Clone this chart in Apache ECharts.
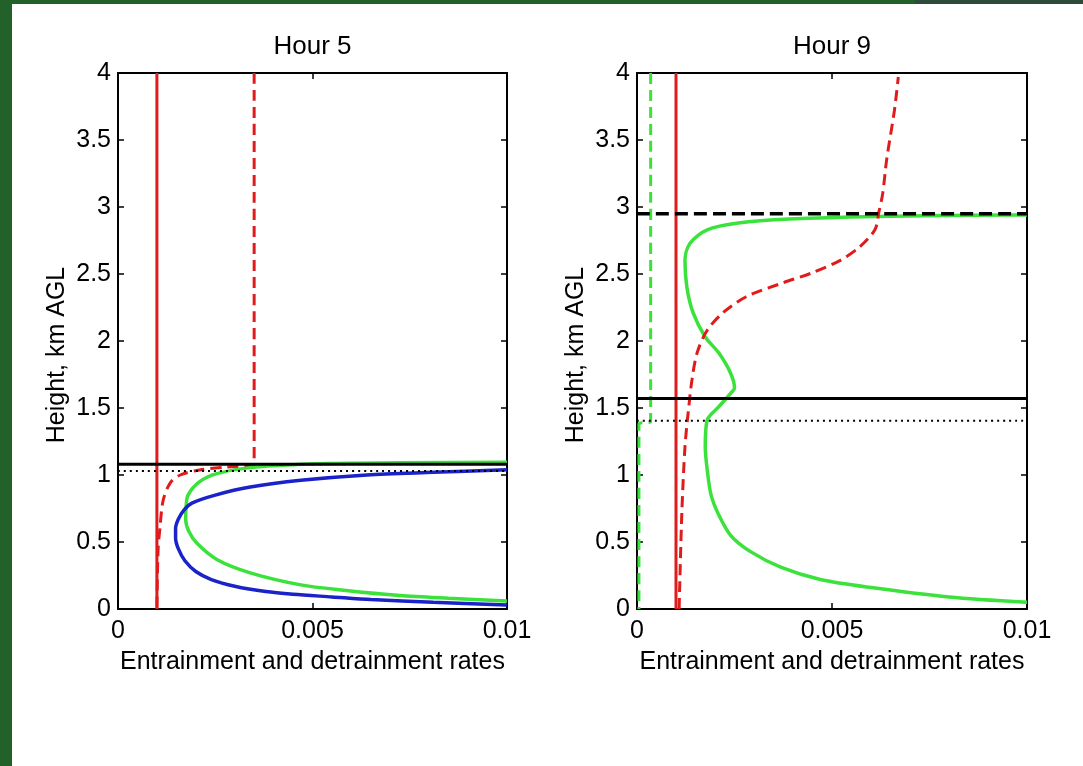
<!DOCTYPE html>
<html>
<head>
<meta charset="utf-8">
<script src="https://cdn.jsdelivr.net/npm/echarts/dist/echarts.min.js"></script>
<style>
  html, body { margin: 0; padding: 0; }
  body { width: 1083px; height: 766px; background: #22622a; position: relative; overflow: hidden; }
  #paper { position: absolute; left: 12px; top: 4px; right: 0; bottom: 0; background: #fff; }
  #corner { position: absolute; left: 915px; top: 0; right: 0; height: 4px; background: #2e4a3a; }
  #chart { position: absolute; left: 0; top: 0; width: 1083px; height: 766px; }
</style>
</head>
<body>
<div id="paper"></div>
<div id="corner"></div>
<div id="chart"></div>
<script>
// panel titles and axis text
const titles = ["Hour 5", "Hour 9"];
const xName = "Entrainment and detrainment rates";
const yName = "Height, km AGL";

// [rate, height km] pairs
const h5RedSolid = [[0.001, 0], [0.001, 4]];
const h5RedDashed = [[0.0035, 4], [0.0035, 1.075], [0.0028, 1.06], [0.0021, 1.037], [0.0016, 1.0],
  [0.00134, 0.94], [0.00116, 0.81], [0.00108, 0.61], [0.00103, 0.44], [0.001, 0]];
const h5Green = [[0.01, 0.06], [0.0085, 0.08], [0.00725, 0.10], [0.0058, 0.14], [0.0047, 0.18],
  [0.0034, 0.27], [0.00254, 0.37], [0.00203, 0.49], [0.00182, 0.58], [0.00174, 0.67],
  [0.00175, 0.76], [0.0018, 0.85], [0.0021, 0.95], [0.00254, 1.01], [0.0034, 1.055],
  [0.0054, 1.085], [0.01, 1.095]];
const h5Blue = [[0.01, 0.03], [0.0081, 0.05], [0.0065, 0.07], [0.0055, 0.09], [0.0045, 0.11],
  [0.0038, 0.13], [0.003, 0.17], [0.0024, 0.22], [0.002, 0.28], [0.00172, 0.36],
  [0.00155, 0.45], [0.00148, 0.53], [0.00148, 0.60], [0.00155, 0.67], [0.0017, 0.74],
  [0.0019, 0.79], [0.0025, 0.85], [0.0034, 0.91], [0.0047, 0.96], [0.0064, 1.0],
  [0.0081, 1.02], [0.01, 1.04]];
const h5Solid = 1.08;
const h5Dotted = 1.03;

const h9RedSolid = [[0.001, 0], [0.001, 4]];
const h9GreenDashed = [[0.00035, 4], [0.00035, 1.4], [0.00005, 1.38], [0.00005, 0]];
const h9Green = [[0.01, 0.05], [0.008, 0.09], [0.006, 0.16], [0.0047, 0.22], [0.0037, 0.31],
  [0.0029, 0.43], [0.0024, 0.55], [0.0021, 0.70], [0.0019, 0.85], [0.0018, 1.04],
  [0.00175, 1.21], [0.0018, 1.41], [0.0021, 1.51], [0.0024, 1.61], [0.0025, 1.65],
  [0.0024, 1.76], [0.0021, 1.91], [0.00175, 2.03], [0.00144, 2.21], [0.00128, 2.40],
  [0.00123, 2.60], [0.00136, 2.73], [0.0018, 2.83], [0.0026, 2.88], [0.0039, 2.91],
  [0.0061, 2.93], [0.0095, 2.94], [0.01, 2.94]];
const h9RedDashed = [[0.00108, 0], [0.00115, 0.72], [0.00123, 1.21], [0.00131, 1.46], [0.00141, 1.71],
  [0.00154, 1.91], [0.0018, 2.08], [0.0022, 2.21], [0.0028, 2.33], [0.0037, 2.43],
  [0.0045, 2.51], [0.0052, 2.60], [0.0057, 2.70], [0.0061, 2.83], [0.0062, 2.96],
  [0.0063, 3.10], [0.0064, 3.35], [0.0066, 3.72], [0.0067, 3.97]];
const h9Solid = 1.57;
const h9Dotted = 1.405;
const h9Dashed = 2.95;

const RED = "#e01b1b", GREEN = "#3be23b", BLUE = "#1a22c8", BLACK = "#000";
const FONT = "Liberation Sans, Arial, sans-serif";

const grids = [
  { left: 118, top: 73, width: 389, height: 536 },
  { left: 637, top: 73, width: 390, height: 536 }
];

const tick = { show: true, inside: true, length: 6, lineStyle: { color: BLACK, width: 1.5 } };
const axLine = { show: true, onZero: false, lineStyle: { color: BLACK, width: 2 } };
const lbl = { color: BLACK, fontSize: 25, fontFamily: FONT };

const xAxes = [], yAxes = [];
grids.forEach((g, i) => {
  xAxes.push({
    type: "value", gridIndex: i, min: 0, max: 0.01, interval: 0.005, position: "bottom",
    axisLine: axLine, axisTick: tick, splitLine: { show: false },
    axisLabel: { ...lbl, margin: 10, formatter: v => String(v) },
    name: xName, nameLocation: "middle", nameGap: 41,
    nameTextStyle: { ...lbl }
  });
  xAxes.push({
    type: "value", gridIndex: i, min: 0, max: 0.01, interval: 0.005, position: "top",
    axisLine: axLine, axisTick: tick, splitLine: { show: false }, axisLabel: { show: false },
    name: titles[i], nameLocation: "middle", nameGap: 13,
    nameTextStyle: { ...lbl, fontSize: 26 }
  });
  yAxes.push({
    type: "value", gridIndex: i, min: 0, max: 4, interval: 0.5, position: "left",
    axisLine: axLine, axisTick: tick, splitLine: { show: false },
    axisLabel: { ...lbl, margin: 7 },
    name: yName, nameLocation: "middle", nameGap: 48, nameRotate: 90,
    nameTextStyle: { ...lbl, padding: [0, 28, 0, 0] }
  });
  yAxes.push({
    type: "value", gridIndex: i, min: 0, max: 4, interval: 0.5, position: "right",
    axisLine: axLine, axisTick: tick, splitLine: { show: false }, axisLabel: { show: false }
  });
});

function line(i, data, color, type, width) {
  return {
    type: "line", xAxisIndex: i * 2, yAxisIndex: i * 2, data: data,
    symbol: "none", smooth: 0.3, clip: true, silent: true,
    lineStyle: { color: color, width: width || 3, type: type || "solid" }
  };
}
function hline(i, y, type, width) {
  return line(i, [[0, y], [0.01, y]], BLACK, type, width);
}

const option = {
  animation: false,
  backgroundColor: "transparent",
  grid: grids,
  xAxis: xAxes,
  yAxis: yAxes,
  series: [
    line(0, h5RedSolid, RED, "solid", 3),
    line(0, h5RedDashed, RED, [11, 6], 3),
    line(0, h5Green, GREEN, "solid", 3.5),
    line(0, h5Blue, BLUE, "solid", 3.5),
    hline(0, h5Solid, "solid", 3),
    hline(0, h5Dotted, [2, 4], 2),

    line(1, h9GreenDashed, GREEN, [11, 6], 3),
    line(1, h9RedSolid, RED, "solid", 3),
    line(1, h9Green, GREEN, "solid", 3.5),
    line(1, h9RedDashed, RED, [11, 6], 3),
    hline(1, h9Solid, "solid", 3),
    hline(1, h9Dotted, [2, 4], 2),
    hline(1, h9Dashed, [13, 6], 3.5)
  ]
};

const chart = echarts.init(document.getElementById("chart"));
chart.setOption(option);
</script>
</body>
</html>
